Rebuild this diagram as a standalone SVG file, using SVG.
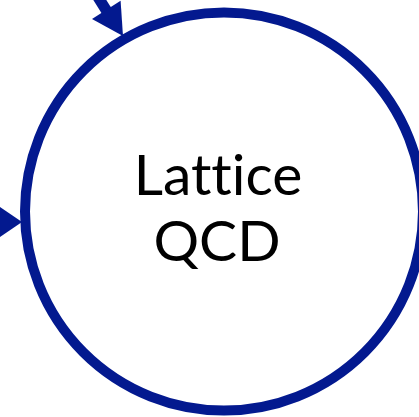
<svg xmlns="http://www.w3.org/2000/svg" width="419" height="417" viewBox="0 0 419 417">
  <style>
    .ring { fill: #ffffff; stroke: #03198f; stroke-width: 10; }
    .shaft { stroke: #03198f; stroke-width: 11; fill: none; }
    .head { fill: #03198f; stroke: none; }
    .label { font-family: "Lato", "Open Sans", sans-serif; font-size: 57px; fill: #000000; text-anchor: middle; font-variant-ligatures: none; font-feature-settings: "liga" 0, "clig" 0; }
  </style>
  <rect width="419" height="417" fill="#ffffff"/>
  <g id="connectors">
    <g id="arrow-top">
      <line class="shaft" x1="96" y1="-6" x2="108" y2="13"/>
      <polygon class="head" points="123,36 92,19 120.6,0.7"/>
    </g>
    <g id="arrow-left">
      <polygon class="head" points="22,222 -9,201 -9,243"/>
    </g>
  </g>
  <g id="lattice-qcd">
    <circle class="ring" cx="224" cy="211.5" r="199"/>
    <text class="label" x="218" y="195">Lattice</text>
    <text class="label" x="217" y="261">QCD</text>
  </g>
</svg>
